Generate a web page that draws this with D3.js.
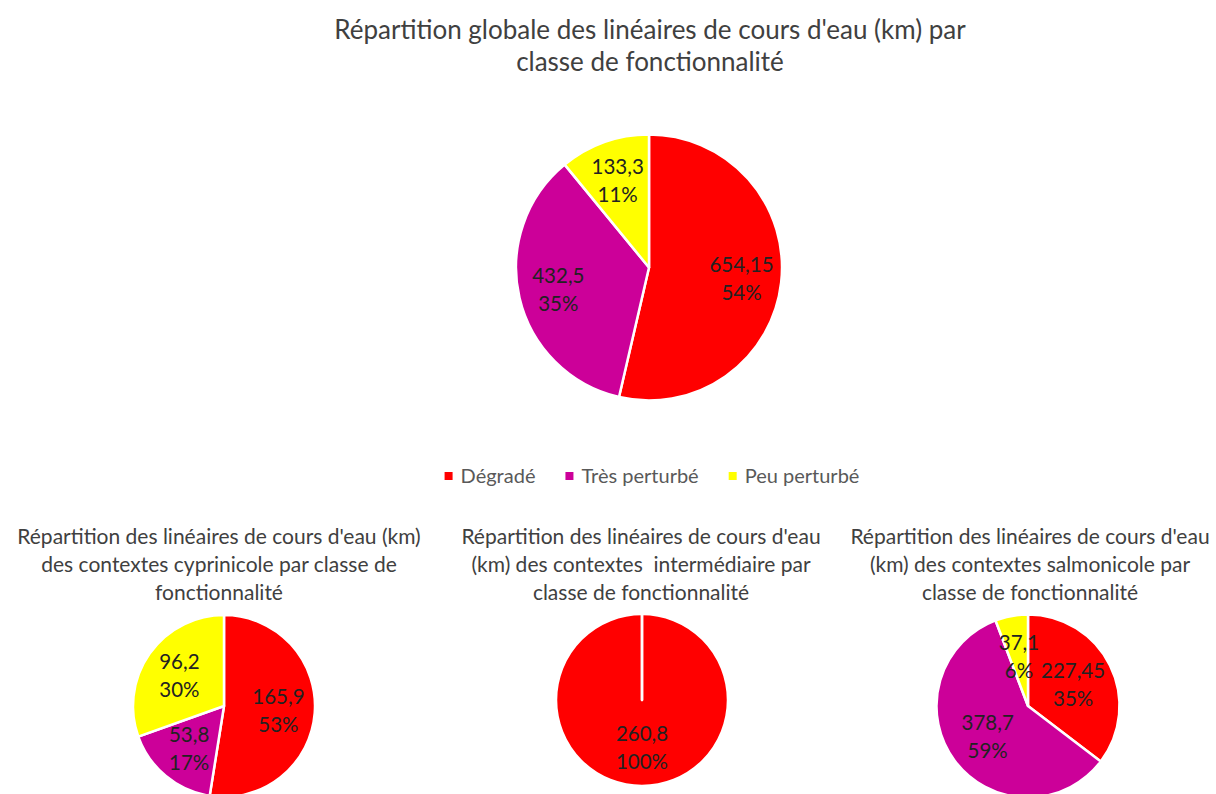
<!DOCTYPE html>
<html>
<head>
<meta charset="utf-8">
<script src="https://cdn.jsdelivr.net/npm/d3@7"></script>
<style>
  body { margin: 0; background: #fff; }
  svg { display: block; font-family: Lato, "Open Sans", sans-serif; }
</style>
</head>
<body>
<div id="chart"></div>
<script>
// Classes and colours (shared by all pies)
const classes = ["Dégradé", "Très perturbé", "Peu perturbé"];
const classColors = ["#FF0000", "#CC0099", "#FFFF00"];

// Lengths in km, same order as classes
const globalValues = [654.15, 432.5, 133.3];
const cyprinicoleValues = [165.9, 53.8, 96.2];
const intermediaireValues = [260.8, 0, 0];
const salmonicoleValues = [227.45, 378.7, 37.1];

// Titles, one entry per line
const globalTitle = ["Répartition globale des linéaires de cours d'eau (km) par", "classe de fonctionnalité"];
const cyprinicoleTitle = ["Répartition des linéaires de cours d'eau (km)", "des contextes cyprinicole par classe de", "fonctionnalité"];
const intermediaireTitle = ["Répartition des linéaires de cours d'eau", "(km) des contextes  intermédiaire par", "classe de fonctionnalité"];
const salmonicoleTitle = ["Répartition des linéaires de cours d'eau", "(km) des contextes salmonicole par", "classe de fonctionnalité"];

const width = 1216, height = 794;
const TITLE_COLOR = "#404040";
const LABEL_COLOR = "#222";

const svg = d3.select("#chart").append("svg")
    .attr("width", width)
    .attr("height", height);

const fmt = v => String(v).replace(".", ",");

function drawTitle(lines, cx, y0, lineH, size) {
    svg.append("text")
        .attr("text-anchor", "middle")
        .attr("fill", TITLE_COLOR)
        .style("font-size", size + "px")
        .style("white-space", "pre")
        .selectAll("tspan")
        .data(lines)
        .join("tspan")
        .attr("x", cx)
        .attr("y", (d, i) => y0 + i * lineH)
        .text(d => d);
}

function drawPie(values, cx, cy, r, labelK) {
    const g = svg.append("g").attr("transform", `translate(${cx},${cy})`);
    const arcs = d3.pie().sort(null).value(d => d)(values);
    const arc = d3.arc().innerRadius(0).outerRadius(r);
    const labelArc = d3.arc().innerRadius(r * labelK).outerRadius(r * labelK);
    const total = d3.sum(values);

    g.selectAll("path")
        .data(arcs)
        .join("path")
        .attr("d", arc)
        .attr("fill", (d, i) => classColors[i])
        .attr("stroke", "#fff")
        .attr("stroke-width", 2.5)
        .attr("stroke-linejoin", "round");

    // data labels: value then percentage
    const labels = g.selectAll("text")
        .data(arcs.filter(d => d.value > 0))
        .join("text")
        .attr("text-anchor", "middle")
        .attr("fill", LABEL_COLOR)
        .style("font-size", "20.5px")
        .attr("transform", d => `translate(${labelArc.centroid(d)})`);

    labels.append("tspan")
        .attr("x", 0)
        .attr("y", -6)
        .text(d => fmt(d.value));

    labels.append("tspan")
        .attr("x", 0)
        .attr("y", 22)
        .text(d => Math.round(d.value / total * 100) + "%");
}

// Global pie
drawTitle(globalTitle, 650, 39, 32, 26);
drawPie(globalValues, 649, 267.5, 133, 0.7);

// Legend, centred under the global pie
const legend = svg.append("g");
let lx = 0;
classes.forEach((c, i) => {
    const item = legend.append("g").attr("transform", `translate(${lx},0)`);
    item.append("rect")
        .attr("x", 0).attr("y", -4)
        .attr("width", 8).attr("height", 8)
        .attr("fill", classColors[i]);
    const t = item.append("text")
        .attr("x", 16)
        .attr("y", 7)
        .attr("fill", "#595959")
        .style("font-size", "20px")
        .text(c);
    lx += 16 + t.node().getComputedTextLength() + 30;
});
const legendW = lx - 30;
legend.attr("transform", `translate(${652 - legendW / 2},476)`);

// Small pies by context
drawTitle(cyprinicoleTitle, 219, 544, 28, 21);
drawPie(cyprinicoleValues, 224, 706, 91, 0.6);

drawTitle(intermediaireTitle, 641, 544, 28, 21);
drawPie(intermediaireValues, 642, 700, 86, 0.55);

drawTitle(salmonicoleTitle, 1030, 544, 28, 21);
drawPie(salmonicoleValues, 1028, 706, 91.5, 0.55);
</script>
</body>
</html>
